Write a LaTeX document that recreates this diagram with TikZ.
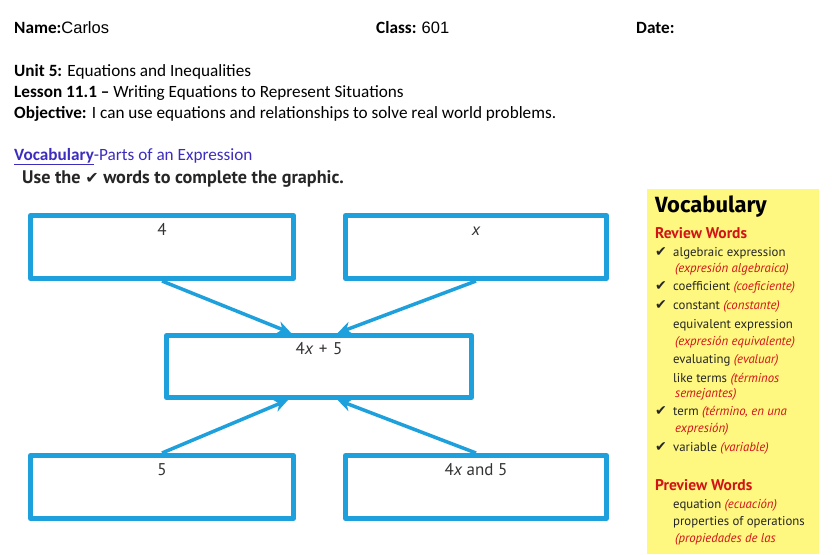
\documentclass[tikz,border=0pt]{standalone}
\usepackage{fontspec}
\setmainfont{Carlito}
\newfontfamily\arialf{Liberation Sans}
\newfontfamily\myriad{PT Sans}
\newfontfamily\vocabf{Fira Sans}
\newfontfamily\symf{DejaVu Sans}
\usetikzlibrary{arrows.meta,calc}
\definecolor{boxblue}{RGB}{30,160,220}
\definecolor{vocblue}{RGB}{60,45,190}
\definecolor{vocred}{RGB}{210,20,25}
\definecolor{vocyellow}{RGB}{254,247,128}
\newcommand\chk{{\symf ✔}}
\newcommand\es[1]{\textcolor{vocred}{\itshape #1}}
\begin{document}
\begin{tikzpicture}[x=1pt, y=-1pt, line join=round, font=\fontsize{17.2}{20}\selectfont,
	hdr/.style={anchor=base west, inner sep=0pt},
	ebox/.style={draw=boxblue, line width=5pt, minimum width=263pt, inner sep=0pt, text height=20pt, text depth=43pt, font=\myriad\fontsize{17}{19}\selectfont, text=black!80},
	conn/.style={draw=boxblue, line width=3.5pt, -{Stealth[length=14pt,width=13pt]}},
	vword/.style={anchor=base west, inner sep=0pt, font=\myriad\fontsize{12.8}{15}\selectfont, text=black!85}]
	\useasboundingbox (0,0) rectangle (832,554);
	% header
	\node[hdr] (name) at (14,33) {\textbf{Name:}{\arialf\fontsize{16.5}{19}\selectfont Carlos}};
	\node[hdr] (class) at (376,33) {\textbf{Class:} {\arialf\fontsize{16.5}{19}\selectfont 601}};
	\node[hdr] (date) at (636,33) {\textbf{Date:}};
	\node[hdr] (unit) at (14,76) {\textbf{Unit 5:} Equations and Inequalities};
	\node[hdr] (lesson) at (14,97) {\textbf{Lesson 11.1 –} Writing Equations to Represent Situations};
	\node[hdr] (obj) at (14,118) {\textbf{Objective:} I can use equations and relationships to solve real world problems.};
	\node[hdr, text=vocblue] (parts) at (14,160) {\underline{\textbf{Vocabulary}}-Parts of an Expression};
	\node[hdr, font=\myriad\bfseries\fontsize{18.2}{21}\selectfont, text=black!85] (use) at (22,183) {Use the {\symf\fontsize{16}{18}\selectfont ✔} words to complete the graphic.};
	% boxes
	\node[ebox] (four) at (162,247) {4};
	\node[ebox, minimum width=261pt] (x) at (476,247) {\itshape x};
	\node[ebox, minimum width=305pt, text height=19pt] (expr) at (319,366.5) {4{\itshape x}\,\,+\,\,5};
	\node[ebox] (five) at (162,487) {5};
	\node[ebox, minimum width=261pt] (both) at (476,487) {4{\itshape x} and 5};
	\draw[conn] (four.south) -- ($(expr.north west)!0.41!(expr.north east)$);
	\draw[conn] (x.south) -- ($(expr.north west)!0.56!(expr.north east)$);
	\draw[conn] (five.north) -- ($(expr.south west)!0.40!(expr.south east)$);
	\draw[conn] (both.north) -- ($(expr.south west)!0.56!(expr.south east)$);
	% vocabulary panel
	\fill[vocyellow] (647,189) rectangle (819,554);
	\node[hdr, font=\vocabf\bfseries\fontsize{22}{25}\selectfont] (vtitle) at (655,212) {Vocabulary};
	\node[hdr, font=\myriad\bfseries\fontsize{15.5}{18}\selectfont, text=vocred] (review) at (655,238) {Review Words};
	\node[hdr, font=\myriad\bfseries\fontsize{15.5}{18}\selectfont, text=vocred] (preview) at (655,490) {Preview Words};
	\foreach \x/\y/\t [count=\i] in {673/256/algebraic expression, 675/272/\es{(expresión algebraica)},
		673/290/coefficient \es{(coeficiente)}, 673/309/constant \es{(constante)},
		673/328/equivalent expression, 675/345/\es{(expresión equivalente)},
		673/363/evaluating \es{(evaluar)}, 673/382/like terms \es{(términos},
		675/397/\es{semejantes)}, 673/415/{term \es{(término, en una}},
		675/432/\es{expresión)}, 673/451/variable \es{(variable)},
		673/508/equation \es{(ecuación)}, 673/525/properties of operations,
		675/542/\es{(propiedades de las}}
		\node[vword] (voc\i) at (\x,\y) {\t};
	\foreach \y [count=\i] in {256,290,309,415,451}
		\node[vword, font=\symf\fontsize{14}{16}\selectfont] (tick\i) at (655,\y) {✔};
\end{tikzpicture}
\end{document}
